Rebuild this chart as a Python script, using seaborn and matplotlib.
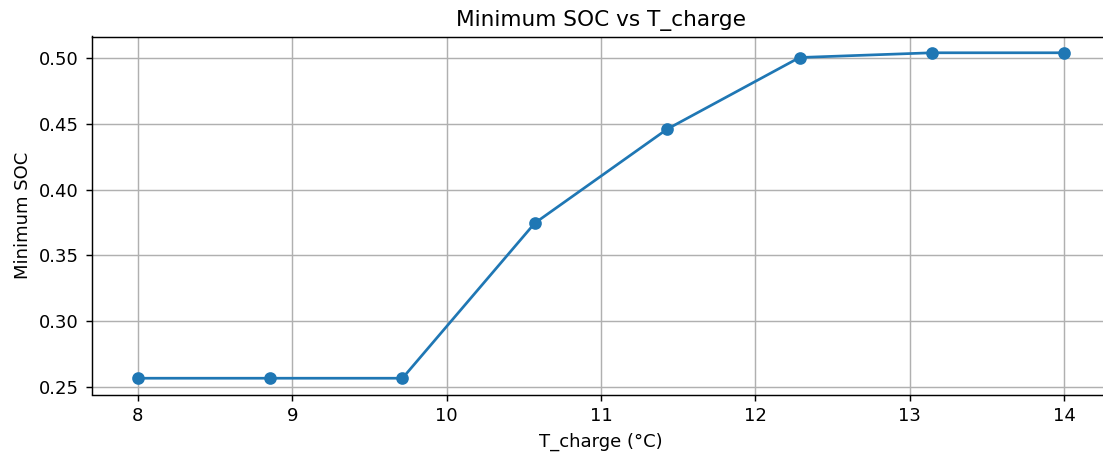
import matplotlib
matplotlib.use("Agg")
import matplotlib.pyplot as plt
import seaborn as sns
import pandas as pd

t_charge = [8.0, 8.857, 9.714, 10.571, 11.429, 12.286, 13.143, 14.0]
min_soc = [0.2566, 0.2566, 0.2566, 0.3745, 0.4460, 0.5004, 0.5040, 0.5040]

df = pd.DataFrame({"T_charge": t_charge, "SOC": min_soc})

DPI = 130
W, H = 1103, 455
fig = plt.figure(figsize=(W / DPI, H / DPI), dpi=DPI)
left, right, top, bottom = 91.5, 1110.5, 36.5, 394.5
ax = fig.add_axes([left / W, 1 - bottom / H, (right - left) / W, (bottom - top) / H])
sns.lineplot(data=df, x="T_charge", y="SOC", ax=ax, marker="o", markersize=6,
             color="#1f77b4", linewidth=1.5, markeredgewidth=1,
             markeredgecolor="#1f77b4")
ax.set_title("Minimum SOC vs T_charge", fontsize=12)
ax.set_xlabel("T_charge (°C)", fontsize=10)
ax.set_ylabel("Minimum SOC", fontsize=10)
ax.grid(True, color="#b0b0b0", linewidth=0.8)
ax.tick_params(labelsize=10)
ax.spines["right"].set_visible(False)
fig.savefig("out.png", dpi=DPI)
